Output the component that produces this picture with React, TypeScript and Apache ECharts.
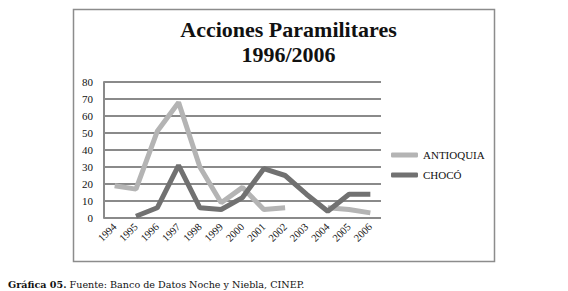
import React, { useEffect, useRef } from "react";
import * as echarts from "echarts";

const years = ["1994","1995","1996","1997","1998","1999","2000","2001","2002","2003","2004","2005","2006"];
const antioquia: (number | null)[] = [19, 17, 51, 68, 30, 9, 18, 5, 6, null, 6, 5, 3];
const choco: (number | null)[] = [null, 1, 6, 31, 6, 5, 12, 29, 25, 14, 4, 14, 14];
const yTicks = { min: 0, max: 80, interval: 10 };
const titleLines = ["Acciones Paramilitares", "1996/2006"];
const seriesNames = ["ANTIOQUIA", "CHOCÓ"];

export default function App() {
  const ref = useRef<HTMLDivElement>(null);
  useEffect(() => {
    if (!ref.current) return;
    const chart = echarts.init(ref.current, null, { renderer: "svg" });
    const serif = "Liberation Serif";
    chart.setOption({
      animation: false,
      backgroundColor: "#ffffff",
      title: {
        text: titleLines.join("\n"),
        left: 283.5,
        textAlign: "center",
        top: 12,
        padding: 5,
        textStyle: { fontFamily: serif, fontWeight: "bold", fontSize: 22, lineHeight: 25, color: "#111" },
      },
      legend: {
        orient: "vertical",
        left: 386,
        top: 144,
        icon: "roundRect",
        itemWidth: 27,
        itemHeight: 5,
        itemGap: 8,
        data: seriesNames,
        textStyle: { fontFamily: serif, fontSize: 11, color: "#111", lineHeight: 12 },
      },
      grid: { left: 104, right: 187, top: 82, bottom: 73, containLabel: false },
      xAxis: {
        type: "category",
        data: years,
        boundaryGap: true,
        axisLine: { show: false },
        axisTick: { show: false },
        axisLabel: { rotate: 45, margin: 7, fontFamily: serif, fontSize: 10.5, color: "#111", interval: 0 },
      },
      yAxis: {
        type: "value",
        min: yTicks.min,
        max: yTicks.max,
        interval: yTicks.interval,
        axisLine: { show: true, lineStyle: { color: "#8a8a8a", width: 2 } },
        axisTick: { show: false },
        splitLine: { show: true, lineStyle: { color: "#8a8a8a", width: 2 } },
        axisLabel: { margin: 11, fontFamily: serif, fontSize: 11, color: "#111" },
      },
      series: [
        {
          name: seriesNames[0],
          type: "line",
          data: antioquia,
          symbol: "none",
          connectNulls: false,
          itemStyle: { color: "#b4b4b4" },
          lineStyle: { color: "#b4b4b4", width: 5 },
        },
        {
          name: seriesNames[1],
          type: "line",
          data: choco,
          symbol: "none",
          connectNulls: false,
          itemStyle: { color: "#717171" },
          lineStyle: { color: "#717171", width: 5 },
        },
      ],
      graphic: [
        {
          type: "rect",
          shape: { x: 73.5, y: 9.5, width: 421, height: 252 },
          style: { fill: "none", stroke: "#8c8c8c", lineWidth: 1.5 },
          silent: true,
        },
        {
          type: "text",
          left: 8,
          top: 279,
          style: {
            text: "{b|Gráfica 05.} Fuente: Banco de Datos Noche y Niebla, CINEP.",
            fontFamily: "DejaVu Serif",
            fontSize: 9.6,
            fill: "#111",
            rich: {
              b: { fontFamily: "DejaVu Serif", fontWeight: "bold", fontSize: 9.6, fill: "#111" },
            },
          },
        },
      ],
    });
    return () => chart.dispose();
  }, []);
  return (
    <div
      ref={ref}
      style={{ position: "absolute", left: 0, top: 0, width: 568, height: 291 }}
    />
  );
}
